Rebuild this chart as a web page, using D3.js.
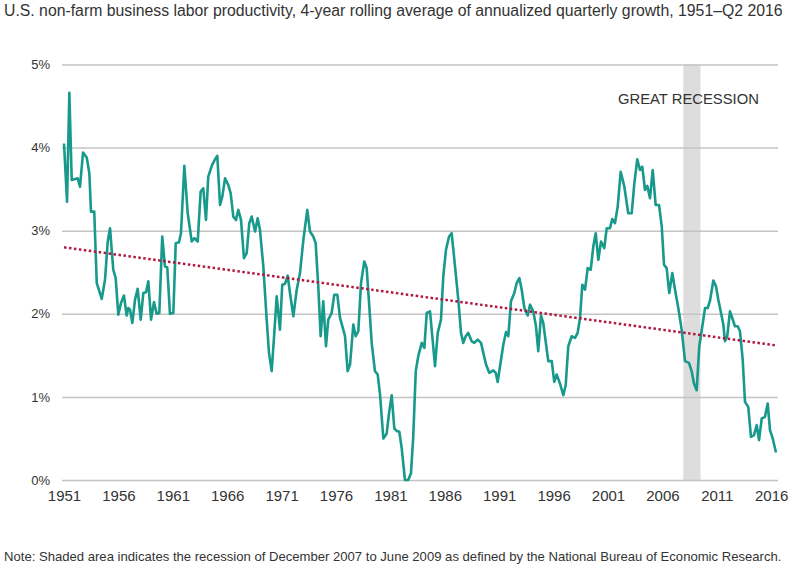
<!DOCTYPE html>
<html>
<head>
<meta charset="utf-8">
<script src="https://cdn.jsdelivr.net/npm/d3@7"></script>
<style>
  body { margin: 0; background: #fff; }
  svg { display: block; }
  text { font-family: "Liberation Sans", Arial, Helvetica, sans-serif; }
</style>
</head>
<body>
<div id="chart"></div>
<script>
// values (year as decimal, growth in %)
const years = [
  1951.00, 1951.28, 1951.49, 1951.71, 1952.26, 1952.47, 1952.75, 1953.09, 1953.33, 1953.48,
  1953.78, 1954.01, 1954.47, 1954.77, 1955.02, 1955.23, 1955.53, 1955.75, 1955.99, 1956.24,
  1956.51, 1956.76, 1956.91, 1957.07, 1957.28, 1957.53, 1957.77, 1958.05, 1958.29, 1958.54,
  1958.75, 1959.00, 1959.27, 1959.52, 1959.76, 1960.03, 1960.28, 1960.49, 1960.74, 1961.05,
  1961.27, 1961.57, 1961.75, 1962.06, 1962.37, 1962.74, 1962.98, 1963.29, 1963.56, 1963.80,
  1964.05, 1964.26, 1964.58, 1964.88, 1965.09, 1965.34, 1965.55, 1965.80, 1966.10, 1966.32,
  1966.56, 1966.81, 1967.02, 1967.27, 1967.54, 1967.79, 1968.03, 1968.25, 1968.56, 1968.80,
  1969.01, 1969.32, 1969.63, 1969.84, 1970.09, 1970.33, 1970.55, 1970.85, 1971.06, 1971.31,
  1971.56, 1971.77, 1972.08, 1972.39, 1972.69, 1973.00, 1973.36, 1973.61, 1973.91, 1974.13,
  1974.37, 1974.59, 1974.83, 1975.08, 1975.29, 1975.60, 1975.84, 1976.12, 1976.37, 1976.67,
  1976.83, 1977.07, 1977.29, 1977.59, 1977.81, 1978.05, 1978.30, 1978.60, 1978.82, 1979.06,
  1979.28, 1979.58, 1979.83, 1980.04, 1980.35, 1980.66, 1980.87, 1981.12, 1981.36, 1981.58,
  1981.82, 1982.04, 1982.34, 1982.64, 1982.89, 1983.10, 1983.33, 1983.56, 1983.88, 1984.12,
  1984.34, 1984.64, 1984.85, 1985.10, 1985.35, 1985.65, 1985.86, 1986.11, 1986.39, 1986.63,
  1986.94, 1987.24, 1987.49, 1987.70, 1987.92, 1988.16, 1988.47, 1988.71, 1989.02, 1989.33,
  1989.54, 1989.79, 1990.09, 1990.46, 1990.68, 1990.86, 1991.17, 1991.38, 1991.63, 1991.84,
  1992.08, 1992.39, 1992.61, 1992.85, 1993.07, 1993.31, 1993.62, 1993.83, 1994.13, 1994.38,
  1994.59, 1994.84, 1995.05, 1995.27, 1995.51, 1995.83, 1996.06, 1996.28, 1996.59, 1996.89,
  1997.11, 1997.35, 1997.66, 1997.97, 1998.21, 1998.43, 1998.64, 1998.89, 1999.13, 1999.41,
  1999.65, 1999.87, 2000.11, 2000.36, 2000.66, 2000.88, 2001.18, 2001.39, 2001.64, 2001.89,
  2002.17, 2002.50, 2002.86, 2003.18, 2003.42, 2003.69, 2003.94, 2004.15, 2004.40, 2004.61,
  2004.86, 2005.11, 2005.38, 2005.69, 2005.94, 2006.15, 2006.39, 2006.63, 2006.91, 2007.16,
  2007.46, 2007.77, 2008.08, 2008.44, 2008.69, 2008.90, 2009.15, 2009.39, 2009.67, 2009.92,
  2010.16, 2010.38, 2010.68, 2010.93, 2011.14, 2011.39, 2011.60, 2011.75, 2011.96, 2012.21,
  2012.42, 2012.67, 2012.92, 2013.13, 2013.38, 2013.59, 2013.89, 2014.14, 2014.42, 2014.67,
  2014.88, 2015.13, 2015.43, 2015.68, 2015.89, 2016.14, 2016.44
];
const growth = [
  4.05, 3.35, 4.66, 3.61, 3.63, 3.53, 3.94, 3.88, 3.69, 3.23,
  3.23, 2.37, 2.18, 2.41, 2.87, 3.03, 2.53, 2.43, 1.99, 2.13,
  2.22, 1.98, 2.07, 2.05, 1.89, 2.17, 2.30, 1.93, 2.25, 2.26,
  2.39, 1.93, 2.14, 2.00, 2.01, 2.93, 2.57, 2.56, 2.00, 2.01,
  2.85, 2.86, 2.97, 3.78, 3.21, 2.87, 2.91, 2.87, 3.47, 3.51,
  3.13, 3.65, 3.78, 3.86, 3.90, 3.31, 3.41, 3.63, 3.55, 3.45,
  3.17, 3.13, 3.25, 3.13, 2.67, 2.73, 3.09, 3.17, 2.99, 3.15,
  3.01, 2.57, 1.93, 1.53, 1.31, 1.77, 2.21, 1.81, 2.35, 2.36,
  2.46, 2.25, 1.97, 2.29, 2.49, 2.89, 3.25, 2.99, 2.93, 2.85,
  2.33, 1.73, 2.15, 1.61, 1.93, 2.01, 2.23, 2.23, 1.95, 1.81,
  1.73, 1.31, 1.39, 1.87, 1.73, 1.79, 2.37, 2.63, 2.55, 2.09,
  1.65, 1.31, 1.27, 1.04, 0.50, 0.56, 0.80, 1.02, 0.62, 0.59,
  0.58, 0.38, 0.00, 0.00, 0.08, 0.52, 1.31, 1.49, 1.65, 1.59,
  2.01, 2.03, 1.73, 1.37, 1.77, 1.93, 2.45, 2.77, 2.93, 2.97,
  2.57, 2.17, 1.77, 1.65, 1.73, 1.77, 1.67, 1.65, 1.69, 1.65,
  1.53, 1.39, 1.29, 1.32, 1.29, 1.18, 1.45, 1.63, 1.78, 1.73,
  2.15, 2.25, 2.37, 2.43, 2.29, 2.07, 1.98, 2.11, 2.03, 1.85,
  1.55, 1.98, 1.89, 1.67, 1.43, 1.43, 1.18, 1.27, 1.16, 1.02,
  1.14, 1.61, 1.73, 1.71, 1.77, 1.95, 2.35, 2.29, 2.55, 2.53,
  2.81, 2.97, 2.65, 2.87, 2.79, 3.03, 3.03, 3.14, 3.09, 3.29,
  3.71, 3.53, 3.21, 3.21, 3.57, 3.86, 3.73, 3.77, 3.49, 3.54,
  3.39, 3.73, 3.31, 3.31, 3.05, 2.59, 2.55, 2.25, 2.49, 2.29,
  2.07, 1.81, 1.43, 1.41, 1.31, 1.16, 1.08, 1.61, 1.85, 2.07,
  2.07, 2.16, 2.40, 2.33, 2.17, 2.01, 1.87, 1.67, 1.73, 2.03,
  1.95, 1.85, 1.85, 1.79, 1.45, 0.94, 0.88, 0.52, 0.54, 0.66,
  0.48, 0.74, 0.76, 0.92, 0.60, 0.50, 0.33
];
const trendYears = [1951.0, 2016.44];
const trendValues = [2.80, 1.62];
const recession = [2007.92, 2009.5];
const xTicks = [1951, 1956, 1961, 1966, 1971, 1976, 1981, 1986, 1991, 1996, 2001, 2006, 2011, 2016];
const yTicks = [0, 1, 2, 3, 4, 5];

const svgWidth = 800;
const svgHeight = 569;
const lineColor = '#17998b';
const trendColor = '#b01840';
const textColor = '#333';

const series = years.map((yr, i) => ({ yr: yr, v: growth[i] }));
const trend = trendYears.map((yr, i) => ({ yr: yr, v: trendValues[i] }));

const svg = d3.select('#chart')
  .append('svg')
  .attr('width', svgWidth)
  .attr('height', svgHeight);

const xScale = d3.scaleLinear().domain([1951, 2016]).range([64, 771.2]);
const yScale = d3.scaleLinear().domain([0, 5]).range([480, 64.5]);

const gridLeft = 62;
const gridRight = 778;

// title
svg.append('text')
  .attr('x', 4)
  .attr('y', 16)
  .attr('fill', textColor)
  .attr('font-size', '15.8px')
  .text('U.S. non-farm business labor productivity, 4-year rolling average of annualized quarterly growth, 1951\u2013Q2 2016');

// recession shading
svg.append('rect')
  .attr('x', xScale(recession[0]))
  .attr('y', yScale(5))
  .attr('width', xScale(recession[1]) - xScale(recession[0]))
  .attr('height', yScale(0) - yScale(5))
  .attr('fill', '#dddddd');

// y axis with gridlines
const yAxis = d3.axisLeft(yScale)
  .tickValues(yTicks)
  .tickSize(-(gridRight - gridLeft))
  .tickPadding(12)
  .tickFormat(d => d + '%');

const yG = svg.append('g')
  .attr('class', 'y-axis')
  .attr('transform', `translate(${gridLeft},0)`)
  .call(yAxis);

yG.select('.domain').remove();
yG.selectAll('.tick line')
  .attr('stroke', '#c4c4c4')
  .attr('stroke-width', 1.5);
yG.selectAll('.tick text')
  .attr('fill', textColor)
  .attr('font-family', '"Liberation Sans", Arial, sans-serif')
  .attr('font-size', '13px');

// x axis
const xAxis = d3.axisBottom(xScale)
  .tickValues(xTicks)
  .tickSize(0)
  .tickPadding(10)
  .tickFormat(d3.format('d'));

const xG = svg.append('g')
  .attr('class', 'x-axis')
  .attr('transform', `translate(0,${yScale(0)})`)
  .call(xAxis);

xG.select('.domain').remove();
xG.selectAll('.tick text')
  .attr('fill', textColor)
  .attr('font-family', '"Liberation Sans", Arial, sans-serif')
  .attr('font-size', '15px');

// productivity line
const line = d3.line()
  .x(d => xScale(d.yr))
  .y(d => yScale(d.v));

svg.append('path')
  .datum(series)
  .attr('fill', 'none')
  .attr('stroke', lineColor)
  .attr('stroke-width', 2.6)
  .attr('stroke-linejoin', 'round')
  .attr('d', line);

// trend line
svg.append('path')
  .datum(trend)
  .attr('fill', 'none')
  .attr('stroke', trendColor)
  .attr('stroke-width', 2.5)
  .attr('stroke-dasharray', '2.5,2.5')
  .attr('d', line);

// recession label
svg.append('text')
  .attr('x', 618)
  .attr('y', 104)
  .attr('fill', textColor)
  .attr('font-size', '14.8px')
  .text('GREAT RECESSION');

// footnote
svg.append('text')
  .attr('x', 4)
  .attr('y', 561)
  .attr('fill', textColor)
  .attr('font-size', '13.1px')
  .text('Note: Shaded area indicates the recession of December 2007 to June 2009 as defined by the National Bureau of Economic Research.');
</script>
</body>
</html>
